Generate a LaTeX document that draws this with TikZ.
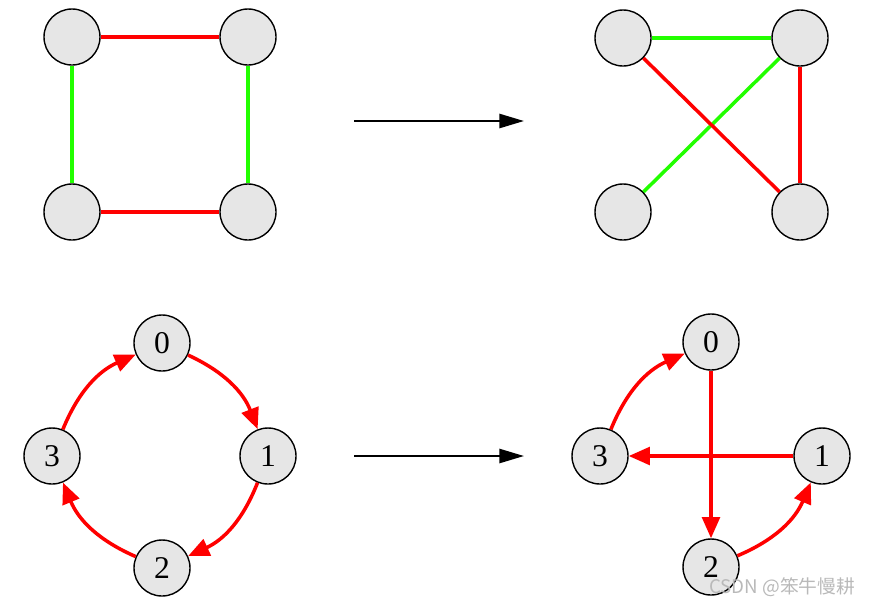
\documentclass[tikz,border=0pt]{standalone}
\usepackage{fontspec}
\setmainfont{Liberation Serif}
\newfontfamily\cjk{Noto Sans CJK SC}
\usetikzlibrary{arrows.meta}
\tikzset{>=stealth}
\definecolor{vgray}{HTML}{E6E6E6}
\definecolor{vred}{HTML}{FF0000}
\definecolor{vgreen}{HTML}{22FF00}
\tikzset{
  vtx/.style={circle, draw=black, fill=vgray, line width=1.2pt, minimum size=1.68cm,
    inner sep=0pt, font=\fontsize{27}{30}\selectfont},
  redge/.style={vred, line width=3pt},
  gedge/.style={vgreen, line width=3pt},
  rarc/.style={redge, -{Triangle[length=18pt,width=15pt]}},
  bigarrow/.style={line width=2pt, -{Triangle[length=21pt,width=12pt]}}
}

\begin{document}
\begin{tikzpicture}[x=0.03cm, y=-0.03cm]
\useasboundingbox (0,0) rectangle (874,606);
% before
\node[vtx] (a) at (72,37) {};
\node[vtx] (b) at (248,37) {};
\node[vtx] (c) at (72,212) {};
\node[vtx] (d) at (248,212) {};
\draw[redge] (a) -- (b);
\draw[redge] (c) -- (d);
\draw[gedge] (a) -- (c);
\draw[gedge] (b) -- (d);
% after
\node[vtx] (e) at (623,38) {};
\node[vtx] (f) at (800,38) {};
\node[vtx] (g) at (623,212) {};
\node[vtx] (h) at (800,212) {};
\draw[gedge] (e) -- (f);
\draw[gedge] (f) -- (g);
\draw[redge] (e) -- (h);
\draw[redge] (f) -- (h);
% arrows
\coordinate (t1) at (354,121);
\coordinate (t2) at (524,121);
\coordinate (u1) at (354,456);
\coordinate (u2) at (524,456);
\draw[bigarrow] (t1) -- (t2);
\draw[bigarrow] (u1) -- (u2);
% cycle
\node[vtx] (p0) at (162,343) {0};
\node[vtx] (p1) at (268,456) {1};
\node[vtx] (p2) at (162,568) {2};
\node[vtx] (p3) at (52,456) {3};
\draw[rarc] (p0) to[bend left=22] (p1);
\draw[rarc] (p1) to[bend left=22] (p2);
\draw[rarc] (p2) to[bend left=22] (p3);
\draw[rarc] (p3) to[bend left=22] (p0);
% swapped
\node[vtx] (q0) at (711,342) {0};
\node[vtx] (q1) at (822,456) {1};
\node[vtx] (q2) at (711,567) {2};
\node[vtx] (q3) at (600,456) {3};
\draw[rarc] (q3) to[bend left=22] (q0);
\draw[rarc] (q0) -- (q2);
\draw[rarc] (q1) -- (q3);
\draw[rarc] (q2) to[bend right=22] (q1);
\node[text=gray!55, font=\cjk\fontsize{16}{18}\selectfont] (wm) at (782,587) {CSDN @笨牛慢耕};
\end{tikzpicture}
\end{document}
